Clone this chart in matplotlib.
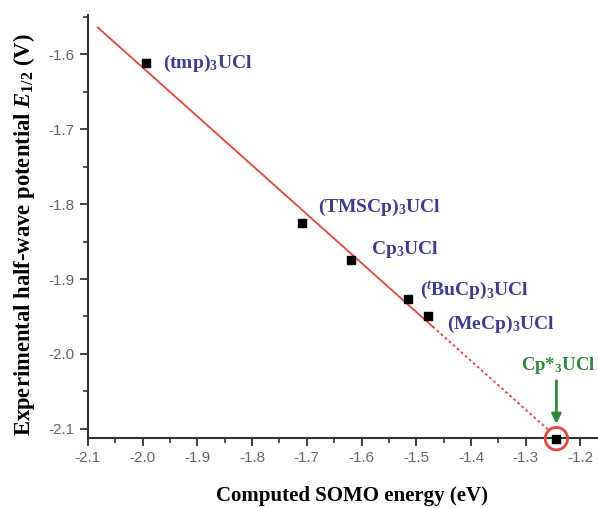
import numpy as np
import matplotlib
matplotlib.use("Agg")
import matplotlib.pyplot as plt
from matplotlib.ticker import MultipleLocator

# SOMO energy (eV) vs. E1/2 (V)
names = ["(tmp)$_3$UCl", "(TMSCp)$_3$UCl", "Cp$_3$UCl", "($^t$BuCp)$_3$UCl", "(MeCp)$_3$UCl"]
somo = [-1.994, -1.709, -1.619, -1.515, -1.478]
e_half = [-1.612, -1.825, -1.875, -1.927, -1.949]

# predicted compound
star_name = "Cp*$_3$UCl"
star_somo = -1.244
star_e = -2.113

# label anchor offsets (data units)
label_dx = [0.031, 0.029, 0.036, 0.022, 0.034]
label_dy = [0.0, 0.020, 0.014, 0.012, -0.012]

blue = "#3b3b9c"
green = "#2e8b3a"
red = "#e8453c"
serif = "Liberation Serif"

plt.rcParams["font.family"] = "Liberation Sans"
plt.rcParams["mathtext.fontset"] = "custom"
plt.rcParams["mathtext.rm"] = "Liberation Serif:bold"
plt.rcParams["mathtext.it"] = "Liberation Serif:italic:bold"
plt.rcParams["mathtext.bf"] = "Liberation Serif:bold"

fig = plt.figure(figsize=(5.98, 5.08), dpi=100)
ax = fig.add_axes([0.147, 0.138, 0.853, 0.832])

# linear fit of the measured compounds, extrapolated to Cp*3UCl
k, b = np.polyfit(somo, e_half, 1)
xs = np.array([-2.082, -1.47])
ax.plot(xs, k * xs + b, color=red, lw=1.3, zorder=2)
xd = np.array([-1.47, star_somo - 0.015])
ax.plot(xd, k * xd + b, color=red, lw=1.3, ls=(0, (1.5, 1.5)), zorder=2)

ax.scatter(somo + [star_somo], e_half + [star_e], marker="s", s=30,
           color="black", zorder=4, clip_on=False)

for n, x, y, dx, dy in zip(names, somo, e_half, label_dx, label_dy):
    ax.text(x + dx, y + dy, n, color=blue, fontsize=14, fontweight="bold",
            family=serif, va="center", ha="left")

ax.text(star_somo - 0.064, -2.015, star_name, color=green, fontsize=13.5,
        fontweight="bold", family=serif, va="center", ha="left")
ax.annotate("", xy=(star_somo, -2.097), xytext=(star_somo, -2.032),
            arrowprops=dict(arrowstyle="-|>", color=green, lw=2,
                            mutation_scale=14), zorder=5)
ax.scatter([star_somo], [star_e], s=260, facecolors="none", edgecolors=red,
           linewidths=2, zorder=5, clip_on=False)

ax.set_xlim(-2.1, -1.168)
ax.set_ylim(-2.112, -1.548)
ax.xaxis.set_major_locator(MultipleLocator(0.1))
ax.xaxis.set_minor_locator(MultipleLocator(0.05))
ax.yaxis.set_major_locator(MultipleLocator(0.1))
ax.yaxis.set_minor_locator(MultipleLocator(0.05))
ax.xaxis.set_major_formatter(plt.FuncFormatter(lambda v, p: f"{v:.1f}"))
ax.yaxis.set_major_formatter(plt.FuncFormatter(lambda v, p: f"{v:.1f}"))

for s in ["top", "right"]:
    ax.spines[s].set_visible(False)
for s in ["left", "bottom"]:
    ax.spines[s].set_linewidth(1.5)
    ax.spines[s].set_color("#333333")

ax.tick_params(which="major", direction="out", length=6, width=1.3,
               colors="#333333", labelcolor="#666666", labelsize=11)
ax.tick_params(which="minor", direction="out", length=3.5, width=1.2,
               colors="#333333")

ax.set_xlabel("Computed SOMO energy (eV)", family=serif, fontweight="bold",
              fontsize=15)
ax.xaxis.set_label_coords(0.517, -0.113)
ax.set_ylabel("Experimental half-wave potential $\\mathit{E}_{1/2}$ (V)",
              family=serif, fontweight="bold", fontsize=16.3)
ax.yaxis.set_label_coords(-0.1, 0.48)

fig.savefig("out.png", dpi=100)
